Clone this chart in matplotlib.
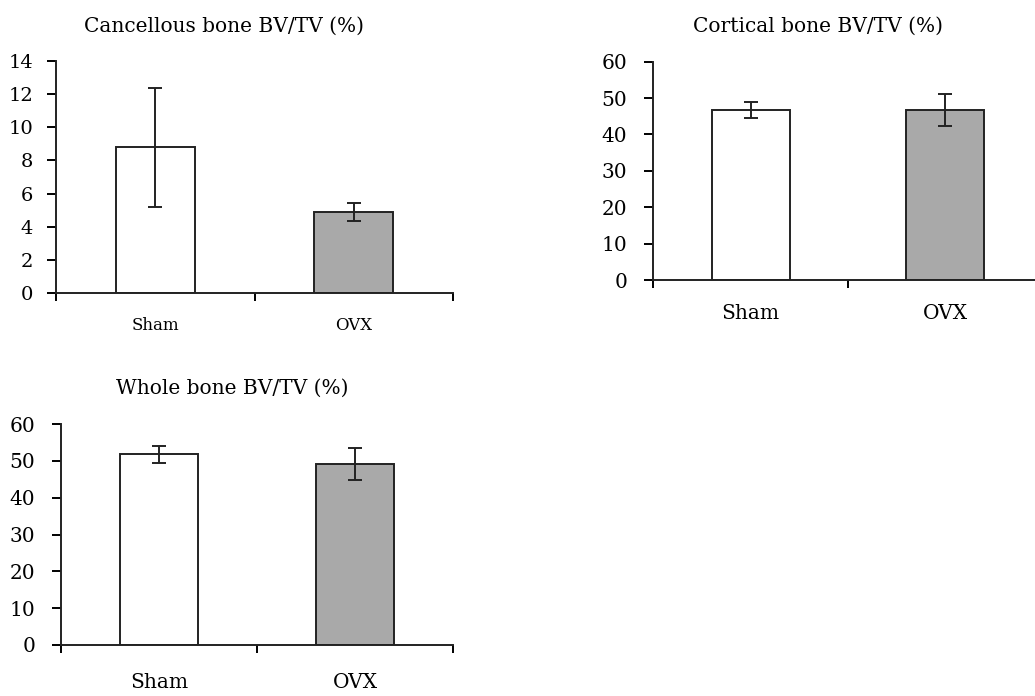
import numpy as np
import matplotlib
matplotlib.use("Agg")
import matplotlib.pyplot as plt

plt.rcParams["font.family"] = ["DejaVu Serif"]

# ---------------- data ----------------
groups = ["Sham", "OVX"]

cancellous_mean = [8.8, 4.9]
cancellous_err = [3.6, 0.55]

cortical_mean = [46.7, 46.7]
cortical_err = [2.2, 4.4]

whole_mean = [51.8, 49.2]
whole_err = [2.3, 4.3]

bar_colors = ["white", "#a9a9a9"]

W, H = 1035, 696
fig = plt.figure(figsize=(W / 100, H / 100), dpi=100)


def px_axes(x0, x1, y_top, y_bot):
    # axes box given in pixel coords (origin top-left)
    return fig.add_axes([x0 / W, 1 - y_bot / H, (x1 - x0) / W, (y_bot - y_top) / H])


def panel(ax, means, errs, ymax, ystep, fs_y, fs_x, ypad, xpad):
    x = np.array([0.5, 1.5])
    ax.bar(x, means, width=0.4, color=bar_colors, edgecolor="#222222", linewidth=1.4, zorder=2)
    ax.errorbar(x, means, yerr=errs, fmt="none", ecolor="#222222", elinewidth=1.4,
                capsize=5, capthick=1.4, zorder=3)
    ax.set_xlim(0, 2)
    ax.set_ylim(0, ymax)
    ax.set_yticks(np.arange(0, ymax + 0.1, ystep))
    ax.set_xticks([0, 1, 2])
    ax.set_xticklabels([])
    ax.set_xticks(x, minor=True)
    ax.set_xticklabels(groups, minor=True)
    ax.tick_params(axis="x", which="minor", length=0, pad=xpad, labelsize=fs_x)
    ax.tick_params(axis="x", which="major", direction="out", length=6, width=1.4)
    ax.tick_params(axis="y", direction="out", length=6.5, width=1.4, pad=ypad, labelsize=fs_y)
    for s in ["top", "right"]:
        ax.spines[s].set_visible(False)
    for s in ["left", "bottom"]:
        ax.spines[s].set_linewidth(1.4)
        ax.spines[s].set_color("#222222")
    ax.patch.set_alpha(0)


ax1 = px_axes(56, 453, 61, 293)
panel(ax1, cancellous_mean, cancellous_err, 14, 2, 14, 12, 10, 17)

ax2 = px_axes(653, 1043, 61.7, 280)
panel(ax2, cortical_mean, cortical_err, 60, 10, 14.5, 14.5, 12, 17)

ax3 = px_axes(61, 453, 424, 645)
panel(ax3, whole_mean, whole_err, 60, 10, 14.5, 14.5, 12, 20)

fig.text(224 / W, 1 - 26 / H, "Cancellous bone BV/TV (%)", ha="center", va="center", fontsize=14.5)
fig.text(818 / W, 1 - 26 / H, "Cortical bone BV/TV (%)", ha="center", va="center", fontsize=14.5)
fig.text(232 / W, 1 - 388 / H, "Whole bone BV/TV (%)", ha="center", va="center", fontsize=14.5)

fig.savefig("out.png", dpi=100, facecolor="white")
